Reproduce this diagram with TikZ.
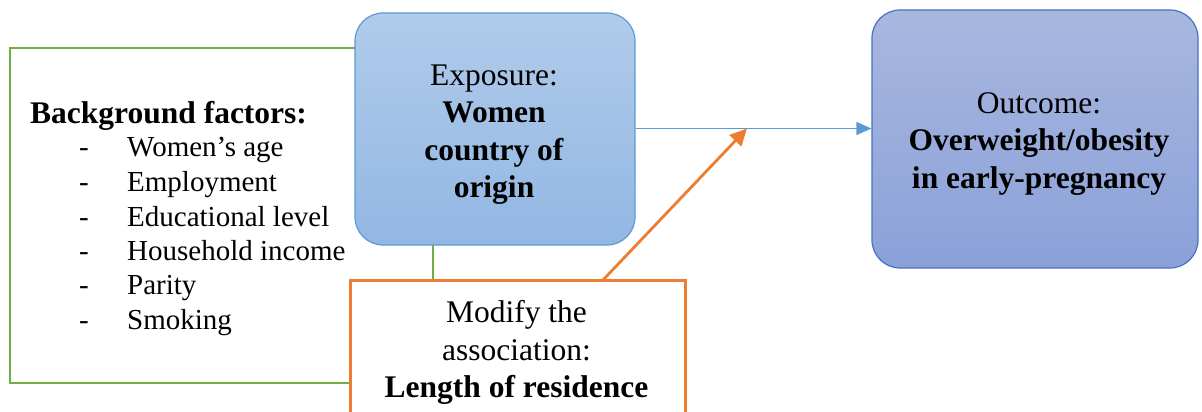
\documentclass[tikz,border=0pt]{standalone}
\usepackage{fontspec}
\setmainfont{Liberation Serif}
\usetikzlibrary{arrows.meta}
\definecolor{cgreen}{HTML}{70AD47}
\definecolor{corange}{HTML}{ED7D31}
\definecolor{cblue}{HTML}{5B9BD5}
\definecolor{cdblue}{HTML}{4472C4}
\definecolor{exptop}{HTML}{B1CBEA}
\definecolor{expbot}{HTML}{92B7E3}
\definecolor{outtop}{HTML}{A9B7E0}
\definecolor{outbot}{HTML}{8AA1D8}
\begin{document}
\begin{tikzpicture}[x=1pt,y=-1pt,
  listtxt/.style={anchor=base west, inner sep=0pt, font=\rmfamily\fontsize{29}{34.5}\selectfont},
  boxtxt/.style={align=center, inner sep=0pt, font=\rmfamily\fontsize{31.5}{37.5}\selectfont},
  gbox/.style={draw=cgreen, line width=2.2pt, fill=white, anchor=north west, inner sep=0pt},
  expbox/.style={draw=cblue, line width=1.2pt, rounded corners=28pt, top color=exptop, bottom color=expbot},
  outbox/.style={draw=cdblue, line width=1.2pt, rounded corners=28pt, top color=outtop, bottom color=outbot},
  obox/.style={draw=corange, line width=2.6pt, fill=white, anchor=north west, inner sep=0pt},
  barrow/.style={draw=cblue, line width=1.4pt, -{Triangle[length=15pt,width=13pt]}},
  oarrow/.style={draw=corange, line width=2.8pt, -{Triangle[length=17pt,width=16pt]}}
]
\fill[white] (0,0) rectangle (1202,412);
\useasboundingbox (0,0) rectangle (1202,412);
\clip (0,0) rectangle (1202,412);
% background factors box
\node[gbox, minimum width=423pt, minimum height=335pt] (bg) at (9,47) {};
\node[listtxt, font=\rmfamily\fontsize{31.5}{37.5}\selectfont\bfseries] (h) at (30,123.3) {Background factors:};
\foreach \i/\t/\yy in {1/Women’s age/156.7, 2/Employment/191.5, 3/Educational level/226, 4/Household income/260.3, 5/Parity/294.6, 6/Smoking/329}{
  \node[listtxt] (d\i) at (79,\yy) {-};
  \node[listtxt] (i\i) at (127,\yy) {\t};
}
% exposure
\node[expbox, minimum width=280pt, minimum height=232pt] (exp) at (495,129) {};
\node[boxtxt] (expt) at (494,134.5)
  {Exposure:\\\textbf{Women}\\\textbf{country of}\\\textbf{origin}};
% outcome
\node[outbox, minimum width=326pt, minimum height=258pt] (out) at (1035,139) {};
\node[boxtxt] (outt) at (1039,144)
  {Outcome:\\\textbf{Overweight/obesity}\\\textbf{in early-pregnancy}};
% modifier
\node[obox, minimum width=335pt, minimum height=170pt] (mod) at (349,279) {};
\node[boxtxt, anchor=north] (modtxt) at (516.5,300.5)
  {Modify the\\association:\\\textbf{Length of residence}};
% arrows
\draw[barrow] (exp.east |- 0,128.5) -- (out.west |- 0,128.5);
\coordinate (os) at (603,280);
\coordinate (oe) at (747,128.5);
\draw[oarrow] (os) -- (oe);
\end{tikzpicture}
\end{document}
